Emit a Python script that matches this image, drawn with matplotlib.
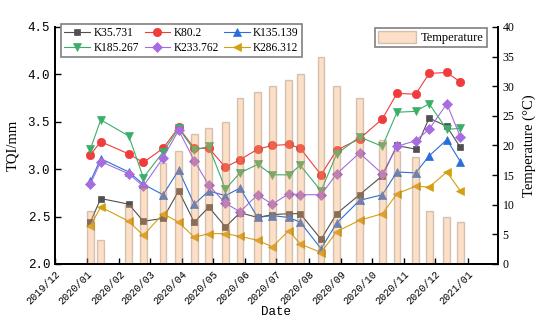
import pandas as pd
import matplotlib
matplotlib.use('Agg')
import matplotlib.pyplot as plt
import matplotlib.dates as mdates

dates = pd.to_datetime([
    '2020-01-04', '2020-01-14', '2020-02-10', '2020-02-24', '2020-03-14', '2020-03-29',
    '2020-04-13', '2020-04-27', '2020-05-13', '2020-05-27', '2020-06-13', '2020-06-27',
    '2020-07-13', '2020-07-24', '2020-08-13', '2020-08-28', '2020-09-19', '2020-10-11',
    '2020-10-25', '2020-11-12', '2020-11-25', '2020-12-12', '2020-12-25'])

k35 = [2.44, 2.69, 2.63, 2.45, 2.48, 2.77, 2.44, 2.60, 2.39, 2.54, 2.49, 2.52,
       2.53, 2.53, 2.26, 2.53, 2.73, 2.93, 3.25, 3.21, 3.54, 3.45, 3.23]
k80 = [3.15, 3.29, 3.16, 3.07, 3.22, 3.44, 3.22, 3.22, 3.02, 3.10, 3.21, 3.25,
       3.26, 3.22, 2.94, 3.20, 3.32, 3.53, 3.80, 3.79, 4.01, 4.02, 3.92]
k135 = [2.87, 3.11, 2.97, 2.84, 2.73, 2.99, 2.63, 2.77, 2.72, 2.80, 2.49, 2.51,
        2.49, 2.44, 2.16, 2.43, 2.67, 2.73, 2.97, 2.96, 3.14, 3.31, 3.08]
k185 = [3.21, 3.52, 3.35, 2.91, 3.18, 3.43, 3.20, 3.24, 2.79, 2.96, 3.05, 2.94,
        2.94, 3.04, 2.77, 3.16, 3.34, 3.24, 3.60, 3.61, 3.69, 3.42, 3.43]
k233 = [2.84, 3.08, 2.95, 2.82, 3.12, 3.41, 3.09, 2.83, 2.64, 2.55, 2.73, 2.63,
        2.74, 2.73, 2.73, 2.95, 3.17, 2.95, 3.24, 3.30, 3.42, 3.69, 3.34]
k286 = [2.40, 2.60, 2.45, 2.30, 2.53, 2.44, 2.28, 2.32, 2.32, 2.29, 2.25, 2.18,
        2.35, 2.21, 2.12, 2.34, 2.46, 2.53, 2.74, 2.82, 2.81, 2.97, 2.77]
temperature = [9, 4, 10, 13, 17, 19, 22, 23, 24, 28, 29, 30,
               31, 32, 35, 30, 28, 21, 19, 18, 9, 8, 7]

names = ['K35.731', 'K80.2', 'K135.139', 'K185.267', 'K233.762', 'K286.312']
series = [k35, k80, k135, k185, k233, k286]
colors = ['#505050', '#f03c3c', '#2a6fd8', '#3cae6a', '#a66ce0', '#d4a00e']
markers = ['s', 'o', '^', 'v', 'D', '<']
msizes = [5, 6, 6, 6, 5, 6]

serif = 'Liberation Serif'
mono = 'Liberation Mono'

fig = plt.figure(figsize=(5.5, 3.25), dpi=100)
ax = fig.add_axes([0.1, 0.188, 0.805, 0.729])
ax2 = ax.twinx()

lines = []
for name, vals, c, m, ms in zip(names, series, colors, markers, msizes):
    ln, = ax.plot(dates, vals, color=c, marker=m, markersize=ms, linewidth=0.8,
                  label=name, markeredgewidth=0.5)
    lines.append(ln)

# bars sit on the twin axes, which is drawn on top of the lines
ax2.bar(dates, temperature, width=6.5, color='#f4a460', alpha=0.35,
        edgecolor=(0.55, 0.42, 0.32), linewidth=1.0, label='Temperature')

ax.set_xlim(pd.Timestamp('2019-12-01'), pd.Timestamp('2021-01-30'))
ax.set_ylim(2.0, 4.5)
ax2.set_ylim(0, 40)
ax.set_yticks([2.0, 2.5, 3.0, 3.5, 4.0, 4.5])
ax.set_yticklabels(['%.1f' % v for v in [2.0, 2.5, 3.0, 3.5, 4.0, 4.5]], fontfamily=mono, fontsize=9)
ax2.set_yticks(range(0, 41, 5))
ax2.set_yticklabels([str(v) for v in range(0, 41, 5)], fontfamily=serif, fontsize=8.5)

ax.xaxis.set_major_locator(mdates.MonthLocator())
ax.xaxis.set_major_formatter(mdates.DateFormatter('%Y/%m'))
for lab in ax.get_xticklabels():
    lab.set_fontfamily(mono)
    lab.set_fontsize(7.3)
    lab.set_rotation(45)
    lab.set_ha('right')
    lab.set_rotation_mode('anchor')

for a in (ax, ax2):
    a.tick_params(direction='in', length=4, width=1)
    a.spines['top'].set_visible(False)
    for s in ['left', 'right', 'bottom']:
        a.spines[s].set_linewidth(1.3)

ax.set_xlabel('Date', fontfamily=mono, fontsize=9, labelpad=0)
ax.set_ylabel('TQI/mm', fontfamily=serif, fontsize=10.5, labelpad=6)
ax2.set_ylabel('Temperature (°C)', fontfamily=serif, fontsize=10.5, labelpad=6)

order = [0, 3, 1, 4, 2, 5]
leg = ax.legend([lines[i] for i in order], [names[i] for i in order], ncol=3,
                loc='upper left', bbox_to_anchor=(0.0135, 1.013), borderaxespad=0,
                prop={'family': serif, 'size': 8.3},
                fancybox=False, edgecolor='#808080', framealpha=1, borderpad=0.3,
                labelspacing=0.2, handlelength=2.2, handletextpad=0.3, columnspacing=0.5)
leg.get_frame().set_linewidth(1.2)
leg2 = ax2.legend(loc='upper right', bbox_to_anchor=(0.975, 0.996), borderaxespad=0,
                  prop={'family': serif, 'size': 9},
                  fancybox=False, edgecolor='#808080', framealpha=1, borderpad=0.25,
                  handlelength=3.0, handleheight=1.1, handletextpad=0.4)
leg2.get_frame().set_linewidth(1.2)

fig.savefig('out.png', dpi=100)
